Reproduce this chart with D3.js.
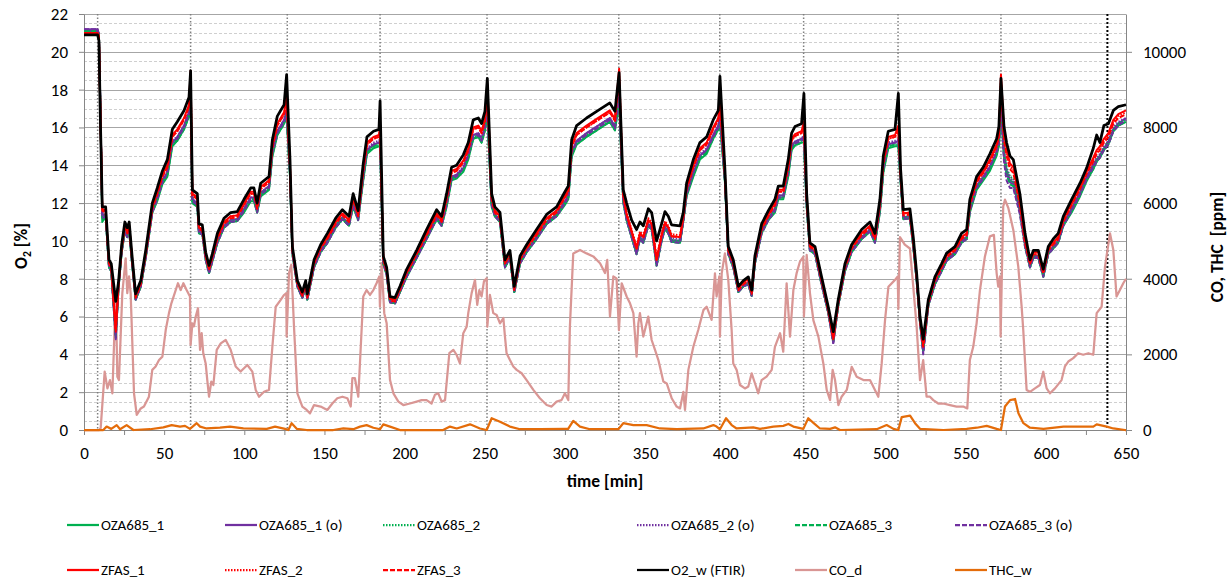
<!DOCTYPE html>
<html><head><meta charset="utf-8">
<script src="https://cdn.jsdelivr.net/npm/d3@7"></script>
<style>body{margin:0;background:#fff}svg{display:block;font-family:Calibri,Carlito,Lato,"Open Sans",sans-serif}</style>
</head><body><svg id="c" width="1230" height="580"></svg>
<script>
// time axis of the O2 series [min]
const times = [
0,8.5,9.3,10.2,11.4,13.5,15.6,17,19.8,21.5,
23.5,25.5,27,28.2,30,32.2,35.4,38.5,42.6,45.7,
48.9,52,55.1,58.2,62.4,65.5,66.5,67.6,70.7,71.7,
73.8,75.9,78,80,83.2,87.3,91.5,95.6,99.8,104,
106,108,110.2,115.4,117.5,120.6,124.8,126.4,128.5,130,
133.1,136.2,138.3,139.3,143.5,147.6,151.8,157,161.2,165.3,
167.9,171,174.2,176.5,180.6,184,184.7,186.7,188.8,190.9,
194,197.1,201.3,207.5,213.7,220,223.1,226.2,229.3,232.4,
236.6,239.7,242.8,246,248,250.1,251.6,254.3,256.3,259.5,
262.6,265.7,268.4,272,276.1,282.3,288.6,294.8,300,302.1,
304.2,307.3,313.5,319.8,328,331.2,333.8,336.4,338.5,341.6,
344.7,346.8,348.9,352,354.1,357.2,360.3,362.4,364.5,366.5,
371.8,373.8,375.9,380.1,384.2,388.4,392.5,395.7,396.7,399.8,
401.9,405,408.2,411.3,414.4,416.5,418.5,422.7,426.9,431,
433.1,436.2,439.3,441.4,443.5,447.6,449.1,450.8,452.8,456,
460.1,464.3,467.4,470.5,474.7,478.8,485.1,490.3,493.4,496.5,
498.6,501.7,505.9,508,509.4,511.1,515.2,517.3,519.4,521.5,
523.5,526.7,530.8,535,538.1,543.3,547.4,550.6,552.6,556.8,
561,565.1,569.3,570.7,572,573.9,575.5,577.6,579.7,583.8,
587,590.1,592.2,595.3,598.4,601.5,604.6,607.7,610.9,616.1,
621.3,625.4,629.6,631.7,633.7,636.2,639,642.1,645.2,650];

const o2FTIR = [
20.9,20.9,20.6,16.5,11.8,11.8,9.0,8.8,6.8,7.8,
9.8,11.0,10.7,11.0,9.2,7.2,7.9,9.5,12.0,12.8,
13.7,14.3,15.9,16.3,16.9,17.6,19.0,12.7,12.5,10.9,
10.85,9.4,8.7,9.3,10.4,11.2,11.5,11.55,12.2,12.8,
12.8,12.0,13.05,13.4,15.35,16.6,17.2,18.8,14.3,9.7,
7.9,7.3,7.9,7.2,9.0,9.8,10.4,11.2,11.65,11.3,
12.5,11.6,14.1,15.5,15.8,15.9,17.4,9.2,8.6,7.05,
7.0,7.6,8.5,9.5,10.6,11.65,11.3,12.5,13.9,14.0,
14.55,15.2,16.4,16.5,16.2,16.85,18.6,12.5,11.8,11.5,
9.0,9.5,7.6,9.2,9.8,10.6,11.4,11.8,12.6,12.9,
15.35,16.1,16.5,16.85,17.3,16.85,18.9,12.7,12.0,11.1,
10.6,11.0,10.8,11.7,11.5,10.0,10.9,11.55,11.3,10.85,
10.8,11.5,13.05,14.3,15.2,15.5,16.4,16.9,18.7,13.8,
9.7,9.0,7.6,7.9,8.1,7.4,9.2,10.9,11.6,12.2,
12.9,12.9,14.3,15.7,16.05,16.2,17.8,12.5,9.9,9.7,
8.1,6.5,5.2,6.9,8.8,9.8,10.6,11.0,10.4,12.2,
14.5,15.8,15.9,17.8,13.8,11.65,11.7,10.2,8.3,6.0,
4.8,6.9,8.1,8.8,9.35,9.7,10.4,10.6,12.2,13.4,
13.9,14.6,15.4,16.05,18.6,16.05,15.2,14.5,14.3,12.5,
10.4,9.0,9.5,9.5,8.5,9.7,10.1,10.4,11.3,12.2,
13.05,13.85,14.9,15.6,15.2,16.1,16.2,16.9,17.1,17.2];

const zfas1 = [
21.0,21.0,20.8,16.8,11.7,11.6,8.9,8.7,5.2,7.7,
9.7,10.8,10.5,10.8,9.1,7.1,7.8,9.4,11.8,12.6,
13.5,14.0,15.6,15.9,16.5,17.2,19.0,12.5,12.3,10.7,
10.65,9.3,8.6,9.2,10.2,11.0,11.3,11.35,12.0,12.6,
12.6,11.8,12.85,13.2,15.05,16.2,16.8,17.6,14.0,9.6,
7.8,7.2,7.8,7.1,8.9,9.7,10.2,11.0,11.45,11.1,
12.3,11.4,13.8,15.2,15.5,15.6,16.0,9.1,8.5,6.95,
6.9,7.5,8.4,9.4,10.4,11.45,11.1,12.3,13.7,13.8,
14.25,14.9,16.0,16.1,15.8,16.45,18.3,12.3,11.6,11.3,
8.9,9.4,7.5,9.1,9.7,10.4,11.2,11.6,12.4,12.7,
15.05,15.7,16.1,16.45,16.9,16.45,19.1,12.5,11.4,10.5,
9.6,10.4,10.2,11.1,10.9,9.0,10.3,10.95,10.7,10.25,
10.2,11.3,12.85,14.0,14.9,15.2,16.0,16.5,17.6,13.6,
9.6,8.9,7.5,7.8,8.0,7.3,9.1,10.7,11.4,12.0,
12.7,12.7,14.0,15.4,15.65,15.8,16.3,12.3,9.8,9.6,
8.0,6.4,4.9,6.8,8.7,9.7,10.4,10.8,10.2,12.0,
14.2,15.5,15.6,16.1,13.6,11.45,11.5,10.0,8.2,5.9,
4.5,6.8,8.0,8.7,9.25,9.6,10.2,10.4,12.0,13.2,
13.7,14.3,15.1,15.65,18.8,15.7,14.9,14.1,13.9,12.1,
10.1,8.9,9.4,9.4,8.4,9.6,9.9,10.2,11.1,12.0,
12.85,13.65,14.4,14.8,15.0,15.4,15.7,16.4,16.7,16.9];

const zfas2 = [
21.0,21.0,20.8,16.9,11.6,11.6,8.8,8.6,5.4,7.7,
9.6,10.8,10.5,10.8,9.0,7.1,7.8,9.3,11.8,12.5,
13.4,13.9,15.5,15.8,16.4,17.1,18.8,12.4,12.2,10.7,
10.65,9.2,8.5,9.1,10.2,11.0,11.3,11.35,11.9,12.5,
12.5,11.8,12.75,13.1,14.95,16.1,16.7,17.4,13.9,9.5,
7.8,7.2,7.8,7.1,8.8,9.6,10.2,11.0,11.45,11.1,
12.2,11.4,13.7,15.1,15.4,15.5,15.9,9.0,8.4,6.95,
6.9,7.5,8.3,9.3,10.4,11.45,11.1,12.2,13.6,13.7,
14.15,14.8,15.9,16.0,15.7,16.35,17.8,12.2,11.6,11.3,
8.8,9.3,7.5,9.0,9.6,10.4,11.2,11.6,12.3,12.6,
14.95,15.6,16.0,16.35,16.8,16.35,18.8,12.4,11.5,10.6,
9.7,10.5,10.3,11.2,11.0,9.1,10.4,11.05,10.8,10.35,
10.3,11.3,12.75,13.9,14.8,15.1,15.9,16.4,17.4,13.5,
9.5,8.8,7.5,7.8,7.9,7.3,9.0,10.7,11.4,11.9,
12.6,12.6,13.9,15.3,15.55,15.7,16.1,12.2,9.7,9.5,
7.9,6.4,5.0,6.8,8.6,9.6,10.4,10.8,10.2,11.9,
14.1,15.4,15.5,15.9,13.5,11.45,11.5,10.0,8.1,5.9,
4.6,6.8,7.9,8.6,9.15,9.5,10.2,10.4,11.9,13.1,
13.6,14.2,15.0,15.55,18.5,15.5,14.7,13.9,13.8,12.0,
10.0,8.8,9.3,9.3,8.3,9.5,9.9,10.2,11.1,11.9,
12.75,13.55,14.3,14.7,14.9,15.3,15.6,16.3,16.6,16.8];

const zfas3 = [
21.0,21.0,20.8,16.9,11.6,11.5,8.8,8.6,5.3,7.6,
9.6,10.7,10.4,10.7,9.0,7.0,7.7,9.3,11.7,12.5,
13.4,13.9,15.5,15.8,16.4,17.1,18.6,12.4,12.2,10.6,
10.55,9.2,8.5,9.1,10.1,10.9,11.2,11.25,11.9,12.5,
12.5,11.7,12.75,13.1,14.95,16.1,16.7,17.3,13.9,9.5,
7.7,7.1,7.7,7.0,8.8,9.6,10.1,10.9,11.35,11.0,
12.2,11.3,13.7,15.1,15.4,15.5,15.8,9.0,8.4,6.85,
6.8,7.4,8.3,9.3,10.3,11.35,11.0,12.2,13.6,13.7,
14.15,14.8,15.9,16.0,15.7,16.35,17.6,12.2,11.5,11.2,
8.8,9.3,7.4,9.0,9.6,10.3,11.1,11.5,12.3,12.6,
14.95,15.6,16.0,16.35,16.8,16.35,18.6,12.4,11.4,10.5,
9.6,10.4,10.2,11.1,10.9,9.0,10.3,10.95,10.7,10.25,
10.2,11.2,12.75,13.9,14.8,15.1,15.9,16.4,17.2,13.5,
9.5,8.8,7.4,7.7,7.9,7.2,9.0,10.6,11.3,11.9,
12.6,12.6,13.9,15.3,15.55,15.7,16.0,12.2,9.7,9.5,
7.9,6.3,4.8,6.7,8.6,9.6,10.3,10.7,10.1,11.9,
14.1,15.4,15.5,15.8,13.5,11.35,11.4,9.9,8.1,5.8,
4.4,6.7,7.9,8.6,9.15,9.5,10.1,10.3,11.9,13.1,
13.6,14.2,15.0,15.55,18.3,15.3,14.5,13.8,13.6,11.9,
9.9,8.8,9.3,9.3,8.3,9.5,9.8,10.1,11.0,11.9,
12.75,13.55,14.2,14.6,14.8,15.2,15.5,16.2,16.5,16.7];

const oza1o = [
21.2,21.2,20.9,17.2,11.3,11.4,8.7,8.5,4.9,7.5,
9.5,10.6,10.3,10.6,8.9,6.9,7.6,9.2,11.6,12.3,
13.2,13.6,15.2,15.5,16.1,16.8,17.6,12.2,12.0,10.5,
10.45,9.1,8.4,9.0,10.0,10.8,11.1,11.15,11.7,12.3,
12.3,11.6,12.55,12.9,14.65,15.8,16.4,16.9,13.6,9.4,
7.6,7.0,7.6,6.9,8.7,9.5,10.0,10.8,11.25,10.9,
12.0,11.2,13.4,14.8,15.1,15.2,15.3,8.9,8.3,6.75,
6.7,7.3,8.2,9.2,10.2,11.25,10.9,12.0,13.4,13.5,
13.85,14.5,15.6,15.7,15.4,16.05,17.0,12.0,11.4,11.1,
8.7,9.2,7.3,8.9,9.5,10.2,11.0,11.4,12.1,12.4,
14.65,15.3,15.7,16.05,16.5,16.05,17.6,12.2,11.2,10.3,
9.4,10.2,10.0,10.9,10.7,8.8,10.1,10.75,10.5,10.05,
10.0,11.1,12.55,13.6,14.5,14.8,15.6,16.1,16.6,13.3,
9.4,8.7,7.3,7.6,7.8,7.1,8.9,10.5,11.2,11.7,
12.4,12.4,13.6,15.0,15.25,15.4,15.5,12.0,9.6,9.4,
7.8,6.2,4.6,6.6,8.5,9.5,10.2,10.6,10.0,11.7,
13.8,15.1,15.2,15.3,13.3,11.25,11.3,9.8,8.0,5.7,
4.1,6.6,7.8,8.5,9.05,9.4,10.0,10.2,11.7,12.9,
13.4,13.9,14.7,15.25,17.2,14.5,13.6,13.1,13.0,11.6,
9.8,8.7,9.2,9.2,8.2,9.4,9.7,10.0,10.9,11.7,
12.55,13.35,14.0,14.3,14.5,14.9,15.2,15.9,16.2,16.5];

const oza2o = [
21.1,21.1,20.9,17.1,11.4,11.4,8.7,8.5,5.0,7.6,
9.5,10.6,10.3,10.6,8.9,7.0,7.7,9.2,11.6,12.3,
13.2,13.7,15.3,15.5,16.1,16.8,17.8,12.2,12.0,10.5,
10.45,9.1,8.4,9.0,10.0,10.8,11.1,11.15,11.7,12.3,
12.3,11.6,12.55,12.9,14.75,15.8,16.4,17.0,13.7,9.4,
7.7,7.1,7.7,7.0,8.7,9.5,10.0,10.8,11.25,10.9,
12.0,11.2,13.5,14.9,15.2,15.3,15.4,8.9,8.3,6.85,
6.8,7.4,8.2,9.2,10.2,11.25,10.9,12.0,13.4,13.5,
13.95,14.6,15.6,15.7,15.4,16.05,17.1,12.0,11.4,11.1,
8.7,9.2,7.4,8.9,9.5,10.2,11.0,11.4,12.1,12.4,
14.75,15.3,15.7,16.05,16.5,16.05,17.8,12.2,11.3,10.4,
9.5,10.3,10.1,11.0,10.8,8.9,10.2,10.85,10.6,10.15,
10.1,11.1,12.55,13.7,14.6,14.9,15.6,16.1,16.7,13.3,
9.4,8.7,7.4,7.7,7.8,7.2,8.9,10.5,11.2,11.7,
12.4,12.4,13.7,15.1,15.25,15.4,15.6,12.0,9.6,9.4,
7.8,6.3,4.7,6.7,8.5,9.5,10.2,10.6,10.0,11.7,
13.9,15.2,15.3,15.4,13.3,11.25,11.3,9.8,8.0,5.8,
4.2,6.7,7.8,8.5,9.05,9.4,10.0,10.2,11.7,12.9,
13.4,14.0,14.8,15.25,17.4,14.8,13.8,13.3,13.2,11.7,
9.9,8.7,9.2,9.2,8.2,9.4,9.7,10.0,10.9,11.7,
12.55,13.35,14.1,14.4,14.6,15.0,15.3,16.0,16.3,16.5];

const oza3o = [
21.2,21.2,20.9,17.2,11.2,11.3,8.6,8.4,4.8,7.5,
9.4,10.5,10.2,10.5,8.8,6.9,7.6,9.1,11.5,12.2,
13.1,13.6,15.2,15.4,16.0,16.7,17.5,12.1,11.9,10.4,
10.35,9.0,8.3,8.9,9.9,10.7,11.0,11.05,11.6,12.2,
12.2,11.5,12.45,12.8,14.65,15.7,16.3,16.8,13.6,9.3,
7.6,7.0,7.6,6.9,8.6,9.4,9.9,10.7,11.15,10.8,
11.9,11.1,13.4,14.8,15.1,15.2,15.2,8.8,8.2,6.75,
6.7,7.3,8.1,9.1,10.1,11.15,10.8,11.9,13.3,13.4,
13.85,14.5,15.5,15.6,15.3,15.95,16.9,11.9,11.3,11.0,
8.6,9.1,7.3,8.8,9.4,10.1,10.9,11.3,12.0,12.3,
14.65,15.2,15.6,15.95,16.4,15.95,17.5,12.1,11.1,10.2,
9.3,10.1,9.9,10.8,10.6,8.7,10.0,10.65,10.4,9.95,
9.9,11.0,12.45,13.6,14.5,14.8,15.5,16.0,16.5,13.2,
9.3,8.6,7.3,7.6,7.7,7.1,8.8,10.4,11.1,11.6,
12.3,12.3,13.6,15.0,15.15,15.3,15.4,11.9,9.5,9.3,
7.7,6.2,4.6,6.6,8.4,9.4,10.1,10.5,9.9,11.6,
13.8,15.1,15.2,15.2,13.2,11.15,11.2,9.7,7.9,5.7,
4.0,6.6,7.7,8.4,8.95,9.3,9.9,10.1,11.6,12.8,
13.3,13.9,14.7,15.15,17.1,14.2,13.2,12.8,12.8,11.4,
9.7,8.6,9.1,9.1,8.1,9.3,9.6,9.9,10.8,11.6,
12.45,13.25,13.9,14.2,14.4,14.8,15.1,15.8,16.1,16.4];

const oza1 = [
21.1,21.1,20.9,17.1,11.0,11.3,8.6,8.4,5.0,7.5,
9.4,10.5,10.2,10.5,8.8,6.9,7.6,9.1,11.5,12.1,
13.0,13.4,15.0,15.3,15.9,16.6,17.3,12.0,11.8,10.4,
10.35,9.0,8.3,8.9,9.9,10.7,11.0,11.05,11.5,12.1,
12.1,11.5,12.35,12.7,14.45,15.6,16.2,16.6,13.4,9.3,
7.6,7.0,7.6,6.9,8.6,9.4,9.9,10.7,11.15,10.8,
11.8,11.1,13.2,14.6,14.9,15.0,15.1,8.8,8.2,6.75,
6.7,7.3,8.1,9.1,10.1,11.15,10.8,11.8,13.2,13.3,
13.65,14.3,15.4,15.5,15.2,15.85,16.7,11.8,11.3,11.0,
8.6,9.1,7.3,8.8,9.4,10.1,10.9,11.3,11.9,12.2,
14.45,15.1,15.5,15.85,16.3,15.85,17.3,12.0,11.1,10.2,
9.3,10.1,9.9,10.8,10.6,8.7,10.0,10.65,10.4,9.95,
9.9,11.0,12.35,13.4,14.3,14.6,15.4,15.9,16.3,13.1,
9.3,8.6,7.3,7.6,7.7,7.1,8.8,10.4,11.1,11.5,
12.2,12.2,13.4,14.8,15.05,15.2,15.2,11.8,9.5,9.3,
7.7,6.2,4.7,6.6,8.4,9.4,10.1,10.5,9.9,11.5,
13.6,14.9,15.0,15.0,13.1,11.15,11.2,9.7,7.9,5.7,
4.2,6.6,7.7,8.4,8.95,9.3,9.9,10.1,11.5,12.7,
13.2,13.7,14.5,15.05,16.9,14.6,13.7,13.2,13.1,11.6,
9.8,8.6,9.1,9.1,8.1,9.3,9.6,9.9,10.8,11.5,
12.35,13.15,13.8,14.2,14.4,14.8,15.1,15.8,16.1,16.3];

const oza2 = [
21.1,21.1,20.9,17.0,11.2,11.4,8.7,8.5,5.1,7.5,
9.5,10.6,10.3,10.6,8.9,6.9,7.6,9.2,11.6,12.2,
13.1,13.5,15.1,15.4,16.0,16.7,17.5,12.1,11.9,10.5,
10.45,9.1,8.4,9.0,10.0,10.8,11.1,11.15,11.6,12.2,
12.2,11.6,12.45,12.8,14.55,15.7,16.3,16.7,13.5,9.4,
7.6,7.0,7.6,6.9,8.7,9.5,10.0,10.8,11.25,10.9,
11.9,11.2,13.3,14.7,15.0,15.1,15.2,8.9,8.3,6.75,
6.7,7.3,8.2,9.2,10.2,11.25,10.9,11.9,13.3,13.4,
13.75,14.4,15.5,15.6,15.3,15.95,16.8,11.9,11.4,11.1,
8.7,9.2,7.3,8.9,9.5,10.2,11.0,11.4,12.0,12.3,
14.55,15.2,15.6,15.95,16.4,15.95,17.5,12.1,11.2,10.3,
9.4,10.2,10.0,10.9,10.7,8.8,10.1,10.75,10.5,10.05,
10.0,11.1,12.45,13.5,14.4,14.7,15.5,16.0,16.4,13.2,
9.4,8.7,7.3,7.6,7.8,7.1,8.9,10.5,11.2,11.6,
12.3,12.3,13.5,14.9,15.15,15.3,15.3,11.9,9.6,9.4,
7.8,6.2,4.8,6.6,8.5,9.5,10.2,10.6,10.0,11.6,
13.7,15.0,15.1,15.1,13.2,11.25,11.3,9.8,8.0,5.7,
4.3,6.6,7.8,8.5,9.05,9.4,10.0,10.2,11.6,12.8,
13.3,13.8,14.6,15.15,17.1,14.9,13.9,13.4,13.3,11.8,
9.9,8.7,9.2,9.2,8.2,9.4,9.7,10.0,10.9,11.6,
12.45,13.25,13.9,14.3,14.5,14.9,15.2,15.9,16.2,16.4];

const oza3 = [
21.1,21.1,20.9,17.1,11.1,11.3,8.6,8.4,4.9,7.5,
9.4,10.5,10.2,10.5,8.8,6.9,7.6,9.1,11.5,12.2,
13.1,13.5,15.1,15.3,15.9,16.6,17.4,12.1,11.9,10.4,
10.35,9.0,8.3,8.9,9.9,10.7,11.0,11.05,11.6,12.2,
12.2,11.5,12.45,12.8,14.55,15.6,16.2,16.6,13.5,9.3,
7.6,7.0,7.6,6.9,8.6,9.4,9.9,10.7,11.15,10.8,
11.9,11.1,13.3,14.7,15.0,15.1,15.1,8.8,8.2,6.75,
6.7,7.3,8.1,9.1,10.1,11.15,10.8,11.9,13.3,13.4,
13.75,14.4,15.4,15.5,15.2,15.85,16.7,11.9,11.3,11.0,
8.6,9.1,7.3,8.8,9.4,10.1,10.9,11.3,12.0,12.3,
14.55,15.1,15.5,15.85,16.3,15.85,17.4,12.1,11.1,10.2,
9.3,10.1,9.9,10.8,10.6,8.7,10.0,10.65,10.4,9.95,
9.9,11.0,12.45,13.5,14.4,14.7,15.4,15.9,16.3,13.2,
9.3,8.6,7.3,7.6,7.7,7.1,8.8,10.4,11.1,11.6,
12.3,12.3,13.5,14.9,15.05,15.2,15.2,11.9,9.5,9.3,
7.7,6.2,4.7,6.6,8.4,9.4,10.1,10.5,9.9,11.6,
13.7,15.0,15.1,15.0,13.2,11.15,11.2,9.7,7.9,5.7,
4.2,6.6,7.7,8.4,8.95,9.3,9.9,10.1,11.6,12.8,
13.3,13.8,14.6,15.05,17.0,14.4,13.5,13.0,12.9,11.5,
9.7,8.6,9.1,9.1,8.1,9.3,9.6,9.9,10.8,11.6,
12.45,13.25,13.8,14.2,14.4,14.8,15.1,15.8,16.1,16.3];

// CO_d [ppm] (secondary axis)
const coTimes = [
0,9.5,10.4,12.9,14.6,16.2,17.7,19.8,20.8,21.8,23.9,26,27,28.1,29.1,31.2,32.9,35.4,37.4,40.5,
42.6,44.7,46.8,48.9,51,53,54.5,56.6,58.6,60.3,62,64,66.1,66.5,67.6,68.6,69.7,71.1,72.4,73.4,
74.4,75.9,76.9,78,79.4,80.7,82.8,85.3,88.4,91.5,94.6,97.7,101.9,105,107.1,109.2,112.3,115.4,117.5,119.6,
122.7,124.8,126.2,126.4,127.9,129.3,131,133.1,136.2,138.9,141,143.5,147.6,151.8,154.9,158,161.2,164.3,166.4,167.4,
169,171.1,174.2,176.3,178.4,180.5,182.5,184.2,184.6,185.7,187.3,188.8,190.9,193,196.1,199.2,203.3,207.5,210.6,213.7,
216.8,218.9,221,223.1,225.2,227.9,230.4,232.4,234.5,236.6,238.7,239.7,241.8,243.9,245.3,246.6,248,249.5,251.2,251.6,
253.2,255.3,257.4,259.5,261.6,262.6,263.6,265.7,267.8,269.9,273,276.1,280.3,284.4,288.6,291.7,294.8,297.9,300,302.1,
303.1,305.2,309.4,313.5,317.7,321.9,325,326.4,328.1,330.2,332.2,333.7,335.4,338.5,340.6,342.7,344.7,345.8,346.8,348.9,
352,354.1,356.2,358.3,361.4,363.5,366.6,369.7,371.8,373.9,374.9,377,380.1,383.2,386.4,388.4,391.5,393.6,394.6,396.3,
396.7,397.8,399.8,401.9,404,405,407.1,409.2,412.3,414.4,416.5,418.6,420.6,422.7,425.8,429,431,434.2,436.2,438.3,
440.4,442.5,444.5,446.6,448.7,449.1,450.8,452.9,455,458.1,461.2,463.3,465.4,467,468.5,470.6,472.6,475.8,478.9,482,
486.2,490.3,493.4,495.5,497.6,499.7,501.8,505.9,507.6,508,509,512,515.2,517.3,519.4,521.5,523.5,525.6,527.7,529.8,
532.9,536,540.2,544.3,548.5,551,552.6,554.7,556.8,558.9,562,565.1,567.6,569.3,570.3,571.4,571.8,573.4,574.5,576.6,
579.7,582.8,584.9,585.9,588,590.1,593.2,596.3,598.4,600.5,602.6,605.7,609.8,611.9,614,617.1,620.2,623.3,626.5,629.6,
631.7,634.8,636.9,640,642.1,644.1,646.2,648.3,650];
const coValues = [
0,0,50,1545,1100,1320,970,3600,1410,1320,3620,4540,3620,4060,3620,970,400,570,620,880,
1590,1680,1850,1940,2650,3090,3350,3620,3880,3700,3880,3700,3530,2250,2820,2740,3000,3220,2120,2560,
2030,1760,1320,880,1280,1190,2120,2290,2380,2120,1680,1545,1720,1545,1060,880,1010,1060,2200,3260,
3440,3570,3620,2470,4150,4370,2730,970,620,530,440,660,620,530,700,840,880,840,620,1370,
1370,880,3530,3700,3570,3700,3880,4060,3260,4410,3090,2820,1320,970,750,660,700,750,790,790,
700,930,970,750,790,2030,2120,1990,1760,2560,2730,3090,3620,3970,3310,3700,3530,3930,4010,2730,
3570,3090,3040,2820,2960,2470,2030,1850,1680,1590,1500,1320,1060,840,660,620,750,790,970,790,
2730,4670,4760,4670,4590,4410,4150,4500,3000,4060,4010,2640,3880,3530,3350,3090,1940,2820,3090,2470,
3000,2380,2120,1850,1280,1230,840,620,570,1010,530,1590,2200,2650,3170,3260,2910,4140,3530,4060,
2470,4140,4670,3970,2640,1760,1590,1190,1100,1150,1500,1230,970,1320,1410,1590,2200,2560,2070,3880,
2470,3700,4140,4450,4580,3000,4630,3600,2900,2470,1760,1060,790,1590,1320,660,880,1060,1670,1410,
1320,1320,1060,880,1760,2910,3790,3970,4060,3200,5100,4900,4800,3790,2730,1320,1850,880,880,790,
700,700,660,620,620,570,1850,2200,2820,3700,4590,5120,5160,4150,3790,4060,2470,5910,6090,5870,
5290,4320,3260,2650,1060,1010,1100,1190,1540,1100,970,1100,1320,1680,1810,1900,2030,1990,2030,1990,
3090,3260,4320,5200,4760,3530,3700,3880,4000];

// THC_w [ppm] (secondary axis)
const thcTimes = [
0,12,14.1,17,20.4,22.5,26.6,30.8,41.2,49.5,54.7,59.9,63,66.1,70.3,72.4,76.5,84.8,91.1,99.4,
114,119.2,125.4,127.5,129.5,132.7,138.9,155.5,161.8,168,172.2,176.3,180.5,184.7,186.7,190.9,197.1,224,228.3,232.5,
240.8,247,251.2,254.3,259.5,265.7,272,284.4,300,302,305.2,309.4,315.6,333.3,336.4,342.7,351,359.3,369.7,386.3,
392.6,394.6,396.7,400.5,404,407.1,417.5,421.7,430,436.2,439.4,442.5,448.7,451.8,455,459.1,465.4,468.5,471.6,494.5,
500.7,504.9,508,510.1,515.3,518.4,521.5,536.1,550.6,556.9,563.1,569.3,572,574.5,577.7,580.8,582.9,586,590.1,598.5,
611,619.3,629.6,631.7,638,642.1,649.4,650];
const thcValues = [
0,0,90,30,130,20,130,0,20,70,130,90,110,30,180,90,40,60,90,40,
30,90,30,0,180,30,0,0,40,20,90,130,60,20,150,90,0,0,90,40,
150,40,0,310,220,90,20,20,30,30,240,90,20,20,180,130,130,40,20,40,
130,90,20,310,130,40,70,30,90,110,160,90,30,310,190,40,30,70,0,20,
130,30,0,340,380,180,30,0,30,60,110,30,0,620,790,820,440,180,60,30,
90,90,90,150,90,40,0,0];

// test-cycle markers [min]
const eventTimes = [8.5,66.5,126.8,184.7,251.4,333.6,396.6,448.9,507.8,572];
const lastEvent = [638.4];

const xTickValues = [0,25,50,75,100,125,150,175,200,225,250,275,300,325,350,375,400,425,450,475,500,525,550,575,600,625,650];
const xTickLabels = [0,50,100,150,200,250,300,350,400,450,500,550,600,650];
const yLeftTicks = [0,2,4,6,8,10,12,14,16,18,20,22];
const yRightTicks = [0,2000,4000,6000,8000,10000];

const series = [
  {name:"OZA685_1", values:oza1, color:"#00b050", dash:null},
  {name:"OZA685_1 (o)", values:oza1o, color:"#7030a0", dash:null},
  {name:"OZA685_2", values:oza2, color:"#00b050", dash:"1.5,1.5"},
  {name:"OZA685_2 (o)", values:oza2o, color:"#7030a0", dash:"1.5,1.5"},
  {name:"OZA685_3", values:oza3, color:"#00b050", dash:"5,2"},
  {name:"OZA685_3 (o)", values:oza3o, color:"#7030a0", dash:"5,2"},
  {name:"ZFAS_1", values:zfas1, color:"#ff0000", dash:null},
  {name:"ZFAS_2", values:zfas2, color:"#ff0000", dash:"1.5,1.5"},
  {name:"ZFAS_3", values:zfas3, color:"#ff0000", dash:"5,2"},
  {name:"O2_w (FTIR)", values:o2FTIR, color:"#000000", dash:null, width:2.75}
];
const coColor = "#d99694", thcColor = "#e46c0a";

const svg = d3.select("#c");
const FONT = 'Calibri,Carlito,Lato,"Open Sans",sans-serif';
const L = 84, R = 1126, T = 14, B = 430;
const x = d3.scaleLinear().domain([0,650]).range([L,R]);
const yL = d3.scaleLinear().domain([0,22]).range([B,T]);
const yR = d3.scaleLinear().domain([0,11000]).range([B,T]);

// minor gridlines
const minorVals = d3.range(0.5, 22, 0.5).filter(v => v % 2 !== 0);
svg.append("g").selectAll("line").data(minorVals).join("line")
  .attr("x1", L).attr("x2", R)
  .attr("y1", d => Math.round(yL(d)) + 0.5).attr("y2", d => Math.round(yL(d)) + 0.5)
  .attr("stroke", "#cfcfcf").attr("stroke-width", 1).attr("stroke-dasharray", "3,2");
// major gridlines
svg.append("g").selectAll("line").data(yLeftTicks.filter(v => v > 0)).join("line")
  .attr("x1", L).attr("x2", R)
  .attr("y1", d => Math.round(yL(d)) + 0.5).attr("y2", d => Math.round(yL(d)) + 0.5)
  .attr("stroke", "#a6a6a6").attr("stroke-width", 1);

// event markers
svg.append("g").selectAll("line").data(eventTimes).join("line")
  .attr("x1", d => x(d)).attr("x2", d => x(d)).attr("y1", T).attr("y2", B)
  .attr("stroke", "#7f7f7f").attr("stroke-width", 1.5).attr("stroke-dasharray", "1.5,2");
svg.append("g").selectAll("line").data(lastEvent).join("line")
  .attr("x1", d => x(d)).attr("x2", d => x(d)).attr("y1", T).attr("y2", B)
  .attr("stroke", "#000").attr("stroke-width", 2).attr("stroke-dasharray", "2,2");

// axes
const tickFont = 17;
const axL = svg.append("g").attr("transform", `translate(${L},0)`)
  .call(d3.axisLeft(yL).tickValues(yLeftTicks).tickSize(5).tickSizeOuter(0).tickPadding(11));
const axR = svg.append("g").attr("transform", `translate(${R},0)`)
  .call(d3.axisRight(yR).tickValues(yRightTicks).tickSize(6).tickSizeOuter(0).tickPadding(11)
    .tickFormat(d3.format("d")));
const axB = svg.append("g").attr("transform", `translate(0,${B})`)
  .call(d3.axisBottom(x).tickValues(xTickValues).tickSize(5).tickSizeOuter(0).tickPadding(12)
    .tickFormat(d => xTickLabels.includes(d) ? String(d) : ""));
[axL, axR, axB].forEach(g => {
  g.select(".domain").attr("stroke", "#868686").attr("stroke-width", 1);
  g.selectAll(".tick line").attr("stroke", "#868686");
  g.selectAll("text").attr("font-size", tickFont).attr("fill", "#000").attr("font-family", FONT);
});

// secondary-axis lines
const lineCO = d3.line().x((d,i) => x(coTimes[i])).y(d => yR(d));
const lineTHC = d3.line().x((d,i) => x(thcTimes[i])).y(d => yR(d));
svg.append("path").datum(coValues).attr("d", lineCO).attr("fill","none")
  .attr("stroke", coColor).attr("stroke-width", 2.25).attr("stroke-linejoin","round");
svg.append("path").datum(thcValues).attr("d", lineTHC).attr("fill","none")
  .attr("stroke", thcColor).attr("stroke-width", 2.25).attr("stroke-linejoin","round");

// O2 lines
const lineO2 = d3.line().x((d,i) => x(times[i])).y(d => yL(d));
series.forEach(s => {
  svg.append("path").datum(s.values).attr("d", lineO2).attr("fill","none")
    .attr("stroke", s.color).attr("stroke-width", s.width || 2)
    .attr("stroke-linejoin","round")
    .attr("stroke-dasharray", s.dash);
});

// axis titles
const titleFont = 17.5;
svg.append("text").attr("transform", "translate(27,246) rotate(-90)")
  .attr("text-anchor","middle").attr("font-weight","bold").attr("font-size",titleFont)
  .call(t => { t.append("tspan").text("O"); t.append("tspan").attr("font-size",11.5).attr("dy",4).text("2"); t.append("tspan").attr("dy",-4).text(" [%]"); });
svg.append("text").attr("transform", "translate(1223,247) rotate(-90)")
  .attr("text-anchor","middle").attr("font-weight","bold").attr("font-size",titleFont)
  .style("white-space","pre").text("CO, THC  [ppm]");
svg.append("text").attr("x", 605).attr("y", 487).attr("text-anchor","middle")
  .attr("font-weight","bold").attr("font-size",titleFont).text("time [min]");

// legend
const legendItems = [
  series[0], series[1], series[2], series[3], series[4], series[5],
  series[6], series[7], series[8], series[9],
  {name:"CO_d", color:coColor, dash:null},
  {name:"THC_w", color:thcColor, dash:null}
];
const legCols = [67, 225, 383, 637, 795, 955];
const legRows = [525, 570];
legendItems.forEach((s, i) => {
  const lx = legCols[i % 6], ly = legRows[Math.floor(i / 6)];
  svg.append("line").attr("x1", lx).attr("x2", lx + 32).attr("y1", ly).attr("y2", ly)
    .attr("stroke", s.color).attr("stroke-width", 2.25).attr("stroke-dasharray", s.dash);
  svg.append("text").attr("x", lx + 34).attr("y", ly + 5).attr("font-size", 15)
    .text(s.name);
});
</script></body></html>
